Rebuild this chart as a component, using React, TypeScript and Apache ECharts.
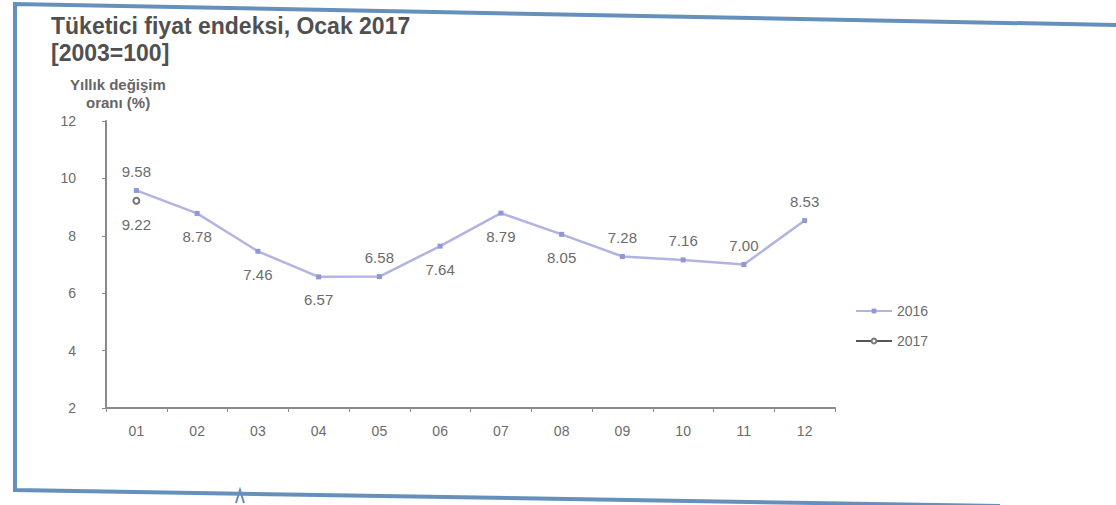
import React, { useEffect, useRef } from "react";
import * as echarts from "echarts";

const months = ["01", "02", "03", "04", "05", "06", "07", "08", "09", "10", "11", "12"];
const values2016 = [9.58, 8.78, 7.46, 6.57, 6.58, 7.64, 8.79, 8.05, 7.28, 7.16, 7.0, 8.53];
const values2017 = [9.22];
const yTicks = [2, 4, 6, 8, 10, 12];
const title = "Tüketici fiyat endeksi, Ocak 2017";
const subtitle = "[2003=100]";
const yName = ["Yıllık değişim", "oranı (%)"];

// label placement for 2016 points (style, not data)
const labelSide = ["top", "bottom", "bottom", "bottom", "top", "bottom", "bottom", "bottom", "top", "top", "top", "top"];

export default function App() {
  const ref = useRef<HTMLDivElement>(null);
  useEffect(() => {
    const chart = echarts.init(ref.current!, null, { renderer: "svg" });
    const gray = "#6b6b6b";
    const font = "Liberation Sans";
    chart.setOption({
      animation: false,
      backgroundColor: "#ffffff",
      textStyle: { fontFamily: font },
      grid: { left: 106, top: 121, width: 729, height: 287, containLabel: false },
      xAxis: {
        type: "category",
        data: months,
        boundaryGap: true,
        axisLine: { lineStyle: { color: "#8a8a8a", width: 2 } },
        axisTick: { show: true, length: 4, lineStyle: { color: "#8a8a8a" } },
        axisLabel: { color: gray, fontSize: 14, margin: 16, fontFamily: font },
      },
      yAxis: {
        type: "value",
        min: yTicks[0],
        max: yTicks[yTicks.length - 1],
        interval: 2,
        splitLine: { show: false },
        axisLine: { show: true, lineStyle: { color: "#8a8a8a", width: 2 } },
        axisTick: { show: true, length: 4, lineStyle: { color: "#8a8a8a" } },
        axisLabel: { color: gray, fontSize: 14, margin: 30, fontFamily: font },
      },
      legend: {
        orient: "vertical",
        left: 850,
        top: 299,
        itemGap: 16,
        itemWidth: 36,
        itemHeight: 6,
        textStyle: { color: gray, fontSize: 14, fontFamily: font },
        data: ["2016", "2017"],
      },
      series: [
        {
          name: "2016",
          type: "line",
          data: values2016.map((v, i) => ({
            value: v,
            label: {
              position: labelSide[i],
              distance: labelSide[i] === "top" ? 9 : 13,
            },
          })),
          symbol: "rect",
          symbolSize: 5,
          lineStyle: { color: "#b3b3e3", width: 2.5 },
          itemStyle: { color: "#8f98d6" },
          label: {
            show: true,
            color: gray,
            fontSize: 15,
            fontFamily: font,
            formatter: (p: any) => p.value.toFixed(2),
          },
        },
        {
          name: "2017",
          type: "line",
          data: values2017,
          symbol: "emptyCircle",
          symbolSize: 6,
          lineStyle: { color: "#555555", width: 2 },
          itemStyle: { color: "#777777" },
          label: {
            show: true,
            position: "bottom",
            distance: 12,
            color: gray,
            fontSize: 15,
            fontFamily: font,
            formatter: (p: any) => p.value.toFixed(2),
          },
        },
      ],
      graphic: [
        {
          type: "polyline",
          shape: { points: [[1116, 25], [15, 4], [15, 490], [1000, 506]] },
          style: { stroke: "#6690bc", lineWidth: 4, fill: "none" },
          silent: true,
        },
        {
          type: "polyline",
          shape: { points: [[236, 503], [240, 490], [244, 503]] },
          style: { stroke: "#6690bc", lineWidth: 2, fill: "none" },
          silent: true,
        },
        {
          type: "text",
          left: 51,
          top: 14,
          style: { text: title, font: `bold 23px "${font}"`, fill: "#505050" },
        },
        {
          type: "text",
          left: 51,
          top: 41,
          style: { text: subtitle, font: `bold 23px "${font}"`, fill: "#505050" },
        },
        {
          type: "text",
          left: 70,
          top: 77,
          style: { text: yName[0], font: `bold 15px "${font}"`, fill: "#666666" },
        },
        {
          type: "text",
          left: 86,
          top: 95,
          style: { text: yName[1], font: `bold 15px "${font}"`, fill: "#666666" },
        },
      ],
    });
    return () => chart.dispose();
  }, []);
  return (
    <div
      ref={ref}
      style={{ position: "absolute", left: 0, top: 0, width: 1116, height: 505 }}
    />
  );
}
